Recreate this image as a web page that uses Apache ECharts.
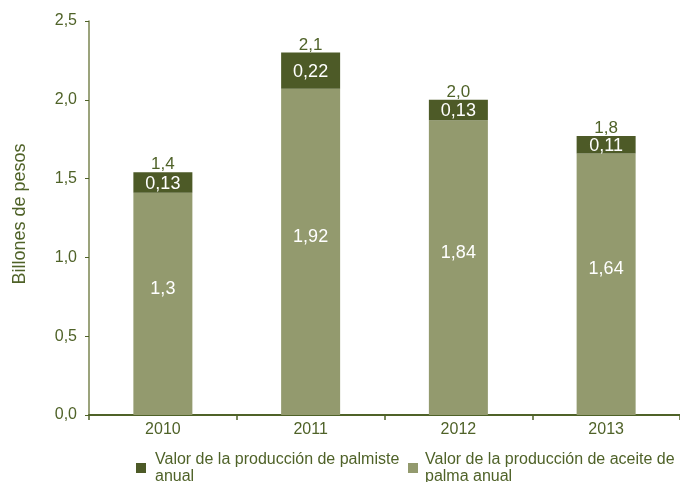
<!DOCTYPE html>
<html>
<head>
<meta charset="utf-8">
<script src="https://cdn.jsdelivr.net/npm/echarts@6/dist/echarts.min.js"></script>
<style>html,body{margin:0;padding:0;background:#fff}#c{width:680px;height:482px}</style>
</head>
<body>
<div id="c"></div>
<script>
const years = ['2010', '2011', '2012', '2013'];
const palmaValues = [1.41, 2.07, 1.87, 1.66];
const palmisteValues = [0.13, 0.23, 0.13, 0.11];
const palmaLabels = ['1,3', '1,92', '1,84', '1,64'];
const palmisteLabels = ['0,13', '0,22', '0,13', '0,11'];
const totalLabels = ['1,4', '2,1', '2,0', '1,8'];
const yTickLabels = ['0,0', '0,5', '1,0', '1,5', '2,0', '2,5'];
const palmaName = 'Valor de la producción de aceite de palma anual';
const palmisteName = 'Valor de la producción de palmiste anual';

const green = '#4f6228';
const dark = '#4d5a27';
const light = '#939a6e';
const font = 'Liberation Sans, Arial, sans-serif';

const chart = echarts.init(document.getElementById('c'), null, {renderer: 'canvas'});
chart.setOption({
  animation: false,
  textStyle: {fontFamily: font},
  grid: {left: 89, top: 21, bottom: 67, width: 593, containLabel: false},
  xAxis: {
    type: 'category',
    data: years,
    axisLine: {lineStyle: {color: green, width: 2}},
    axisTick: {show: true, length: 5, lineStyle: {color: green, width: 1.5}},
    axisLabel: {color: green, fontSize: 16, margin: 7, fontFamily: font}
  },
  yAxis: {
    type: 'value',
    min: 0, max: 2.5, interval: 0.5,
    name: 'Billones de pesos',
    nameLocation: 'middle',
    nameGap: 60,
    nameTextStyle: {color: green, fontSize: 18, fontFamily: font, padding: [0, 0, 0, 8]},
    axisLine: {show: true, lineStyle: {color: '#7a8450', width: 1.5}},
    axisTick: {show: true, inside: false, length: 4, lineStyle: {color: green}},
    splitLine: {show: false},
    axisLabel: {
      color: green, fontSize: 16, margin: 12, fontFamily: font,
      formatter: (v) => yTickLabels[Math.round(v / 0.5)]
    }
  },
  legend: [
    {
      left: 136, top: 450, padding: 0, orient: 'horizontal',
      data: [palmisteName],
      itemWidth: 10, itemHeight: 10,
      icon: 'rect',
      formatter: () => 'Valor de la producción de palmiste\nanual',
      textStyle: {color: green, fontSize: 16, lineHeight: 17, fontFamily: font, padding: [2, 0, 0, 4]}
    },
    {
      left: 408, top: 450, padding: 0, orient: 'horizontal',
      data: [palmaName],
      itemWidth: 10, itemHeight: 10,
      icon: 'rect',
      formatter: () => 'Valor de la producción de aceite de\npalma anual',
      textStyle: {color: green, fontSize: 16, lineHeight: 17, fontFamily: font, padding: [2, 0, 0, 2]}
    }
  ],
  series: [
    {
      name: palmaName,
      type: 'bar',
      stack: 'total',
      barWidth: 59,
      itemStyle: {color: light},
      data: palmaValues,
      label: {
        show: true, position: 'inside', offset: [0, -15],
        color: '#fff', fontSize: 18, fontFamily: font,
        formatter: (p) => palmaLabels[p.dataIndex]
      }
    },
    {
      name: palmisteName,
      type: 'bar',
      stack: 'total',
      barWidth: 59,
      itemStyle: {color: dark},
      data: palmisteValues,
      label: {
        show: true, position: 'inside', offset: [0, 1],
        color: '#fff', fontSize: 18, fontFamily: font,
        formatter: (p) => palmisteLabels[p.dataIndex]
      }
    },
    {
      name: 'total',
      type: 'bar',
      stack: 'total',
      barWidth: 59,
      itemStyle: {color: 'transparent'},
      data: years.map(() => 0),
      label: {
        show: true, position: 'top', distance: -1,
        color: green, fontSize: 17, fontFamily: font,
        formatter: (p) => totalLabels[p.dataIndex]
      }
    }
  ]
});
</script>
</body>
</html>
